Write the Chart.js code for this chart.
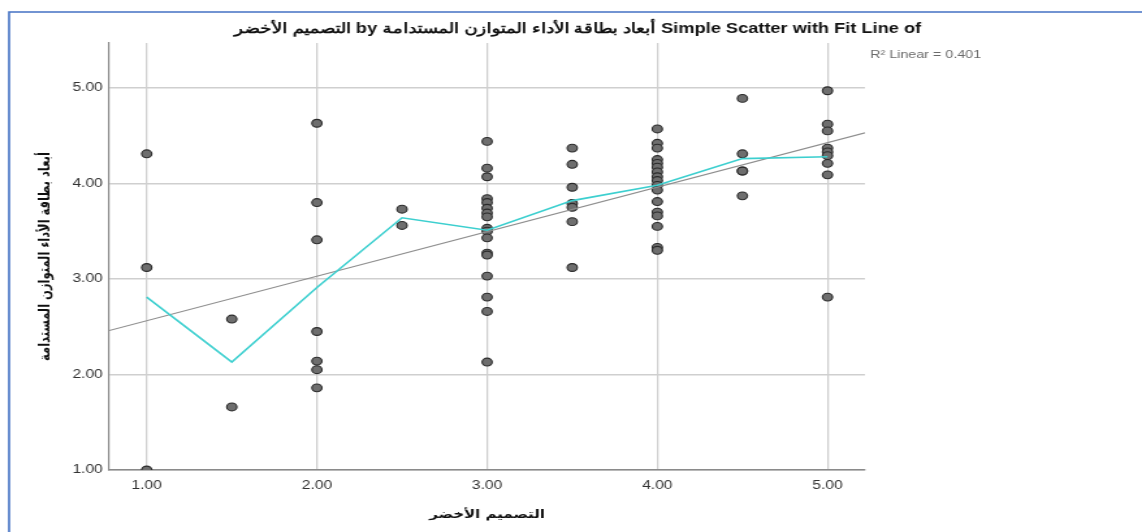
<!DOCTYPE html>
<html>
<head>
<meta charset="utf-8">
<script src="https://cdn.jsdelivr.net/npm/chart.js@4/dist/chart.umd.min.js"></script>
<style>
    html, body { margin: 0; padding: 0; background: #fff; overflow: hidden; }
    /* the source picture is an SPSS chart stretched sideways, so draw narrow and stretch */
    #wrap { width: 878px; height: 532px; transform: scaleX(1.3007); transform-origin: 0 0; }
</style>
</head>
<body>
<div id="wrap"><canvas id="myChart" width="878" height="532"></canvas></div>
<script>
// observed scores per value of X (التصميم الأخضر)
const groupX = [1, 1.5, 2, 2.5, 3, 3.5, 4, 4.5, 5];
const scoresAt100 = [4.31, 3.12, 1.00];
const scoresAt150 = [2.58, 1.66];
const scoresAt200 = [4.63, 3.80, 3.41, 2.45, 2.14, 2.05, 1.86];
const scoresAt250 = [3.73, 3.56];
const scoresAt300 = [4.44, 4.16, 4.07, 3.84, 3.80, 3.74, 3.69, 3.65, 3.53, 3.50, 3.43, 3.27, 3.25, 3.03, 2.81, 2.66, 2.13];
const scoresAt350 = [4.37, 4.20, 3.96, 3.79, 3.75, 3.60, 3.12];
const scoresAt400 = [4.57, 4.42, 4.37, 4.25, 4.21, 4.17, 4.12, 4.07, 4.03, 3.98, 3.93, 3.81, 3.70, 3.66, 3.55, 3.33, 3.30];
const scoresAt450 = [4.89, 4.31, 4.13, 4.13, 3.87];
const scoresAt500 = [4.97, 4.62, 4.55, 4.37, 4.33, 4.29, 4.21, 4.09, 2.81];

// cyan line through group means
const meanY = [2.81, 2.13, 2.91, 3.64, 3.51, 3.82, 3.98, 4.26, 4.28];

// linear fit line, read at the plot edges
const fitX = [0.78, 5.22];
const fitY = [2.46, 4.53];

const xTicks = [1, 2, 3, 4, 5];
const yTicks = [1, 2, 3, 4, 5];

const titleText = 'Simple Scatter with Fit Line of أبعاد بطاقة الأداء المتوازن المستدامة by التصميم الأخضر';
const xTitle = 'التصميم الأخضر';
const yTitle = 'أبعاد بطاقة الأداء المتوازن المستدامة';
const r2Text = 'R² Linear = 0.401';

const allGroups = [scoresAt100, scoresAt150, scoresAt200, scoresAt250, scoresAt300,
    scoresAt350, scoresAt400, scoresAt450, scoresAt500];

const points = [];
allGroups.forEach((scores, i) => {
    scores.forEach(v => points.push({x: groupX[i], y: v}));
});

const meanPoints = groupX.map((x, i) => ({x: x, y: meanY[i]}));
const fitPoints = fitX.map((x, i) => ({x: x, y: fitY[i]}));

const decorations = {
    id: 'decorations',
    afterDraw(chart) {
        const ctx = chart.ctx;
        ctx.save();
        // page frame
        ctx.strokeStyle = '#4472C4';
        ctx.lineWidth = 1.6;
        ctx.beginPath();
        ctx.moveTo(7, 532);
        ctx.lineTo(7, 12);
        ctx.lineTo(878, 12);
        ctx.stroke();

        // title
        ctx.fillStyle = '#111';
        ctx.font = 'bold 14px "Liberation Sans", Arial, sans-serif';
        ctx.textAlign = 'center';
        ctx.textBaseline = 'middle';
        ctx.direction = 'rtl';
        ctx.fillText(titleText, 444, 29);

        // R2 label
        ctx.direction = 'ltr';
        ctx.fillStyle = '#6a6a6a';
        ctx.font = '11px "Liberation Sans", Arial, sans-serif';
        ctx.textAlign = 'left';
        ctx.fillText(r2Text, 669, 55);
        ctx.restore();
    }
};

const ctx = document.getElementById('myChart').getContext('2d');
const myChart = new Chart(ctx, {
    type: 'scatter',
    data: {
        datasets: [{
            type: 'line',
            data: meanPoints,
            borderColor: '#3ccfcf',
            borderWidth: 1.6,
            pointRadius: 0,
            fill: false,
            tension: 0
        }, {
            type: 'line',
            data: fitPoints,
            borderColor: '#8e8e8e',
            borderWidth: 1.1,
            pointRadius: 0,
            fill: false
        }, {
            data: points,
            pointRadius: 3.9,
            pointBackgroundColor: '#6e6e6e',
            pointBorderColor: '#2a2a2a',
            pointBorderWidth: 1.1
        }]
    },
    options: {
        responsive: false,
        devicePixelRatio: 1,
        animation: false,
        layout: {
            padding: {top: 43, right: 213, bottom: 0, left: 0}
        },
        plugins: {
            legend: {display: false},
            tooltip: {enabled: false},
            title: {display: false}
        },
        scales: {
            x: {
                type: 'linear',
                min: 0.78,
                max: 5.22,
                afterBuildTicks: (scale) => {
                    scale.ticks = xTicks.map(v => ({value: v}));
                },
                afterFit: (scale) => {
                    scale.height = 62;
                },
                grid: {
                    color: '#cfcfcf',
                    lineWidth: 1.3,
                    drawTicks: false
                },
                border: {color: '#8a8a8a', width: 1.5},
                ticks: {
                    color: '#333',
                    padding: 8,
                    font: {family: '"Liberation Sans", Arial, sans-serif', size: 12},
                    callback: (value) => Number(value).toFixed(2)
                },
                title: {
                    display: true,
                    text: xTitle,
                    color: '#111',
                    font: {family: '"DejaVu Sans", sans-serif', size: 11.5, weight: 'bold'},
                    padding: {top: 0, bottom: 10}
                }
            },
            y: {
                type: 'linear',
                min: 1,
                max: 5.47,
                afterBuildTicks: (scale) => {
                    scale.ticks = yTicks.map(v => ({value: v}));
                },
                afterFit: (scale) => {
                    scale.width = 84;
                },
                grid: {
                    color: '#cfcfcf',
                    lineWidth: 1.5,
                    drawTicks: false
                },
                border: {color: '#8a8a8a', width: 1.2},
                ticks: {
                    color: '#333',
                    padding: 5,
                    font: {family: '"Liberation Sans", Arial, sans-serif', size: 12},
                    callback: (value) => Number(value).toFixed(2)
                },
                title: {
                    display: true,
                    text: yTitle,
                    color: '#111',
                    font: {family: '"DejaVu Sans", sans-serif', size: 11.5, weight: 'bold'},
                    padding: {top: 28, bottom: 0}
                }
            }
        }
    },
    plugins: [decorations]
});
</script>
</body>
</html>
